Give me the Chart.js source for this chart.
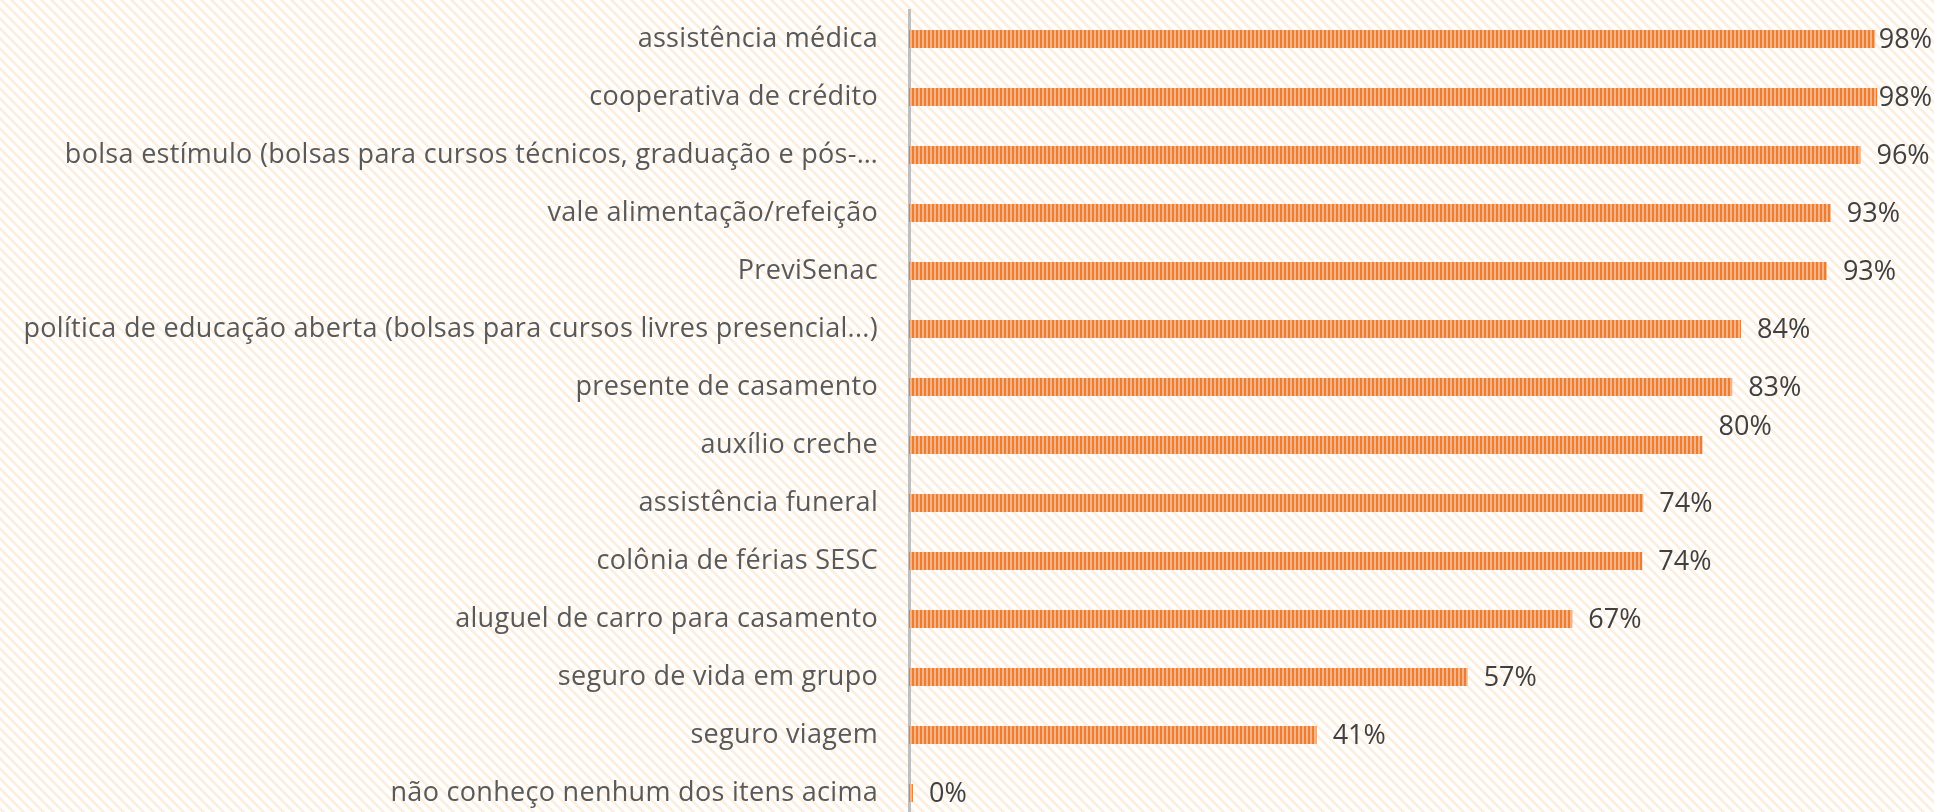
<!DOCTYPE html>
<html>
<head>
<meta charset="utf-8">
<script src="https://cdn.jsdelivr.net/npm/chart.js@4/dist/chart.umd.min.js"></script>
<style>
	html, body { margin: 0; padding: 0; overflow: hidden; background: #fff; }
	#wrap { width: 1934px; height: 822px; }
</style>
</head>
<body>
<div id="wrap"><canvas id="chart" width="1934" height="822"></canvas></div>
<script>
	const categories = [
		'assistência médica',
		'cooperativa de crédito',
		'bolsa estímulo (bolsas para cursos técnicos, graduação e pós-…',
		'vale alimentação/refeição',
		'PreviSenac',
		'política de educação aberta (bolsas para cursos livres presencial...)',
		'presente de casamento',
		'auxílio creche',
		'assistência funeral',
		'colônia de férias SESC',
		'aluguel de carro para casamento',
		'seguro de vida em grupo',
		'seguro viagem',
		'não conheço nenhum dos itens acima'
	];
	const shares = [0.979, 0.981, 0.964, 0.934, 0.930, 0.843, 0.834, 0.804, 0.744, 0.743, 0.672, 0.566, 0.413, 0.004];

	// little tiles for the Excel-like fills
	function makePattern(w, h, paint) {
		const c = document.createElement('canvas');
		c.width = w;
		c.height = h;
		paint(c.getContext('2d'));
		return c.getContext('2d').createPattern(c, 'repeat');
	}

	const bgPattern = makePattern(10, 10, (g) => {
		g.fillStyle = '#ffffff';
		g.fillRect(0, 0, 10, 10);
		g.fillStyle = '#fcefdf';
		for (let y = 0; y < 10; y++) {
			for (let k = 0; k < 4; k++) {
				g.fillRect((y + k) % 10, y, 1, 1);
			}
		}
	});

	const barPattern = makePattern(4, 4, (g) => {
		g.fillStyle = '#f5b488';
		g.fillRect(0, 0, 4, 4);
		g.fillStyle = '#ed7d31';
		g.fillRect(0, 0, 2, 4);
	});

	const backdrop = {
		id: 'backdrop',
		beforeDraw(chart) {
			const ctx = chart.ctx;
			ctx.save();
			ctx.fillStyle = bgPattern;
			ctx.fillRect(0, 0, chart.width, chart.height);
			ctx.restore();
			ctx.letterSpacing = '0.3px';
		}
	};

	const valueLabels = {
		id: 'valueLabels',
		afterDatasetsDraw(chart) {
			const ctx = chart.ctx;
			const meta = chart.getDatasetMeta(0);
			ctx.save();
			ctx.font = '27px "Open Sans"';
			ctx.letterSpacing = '0px';
			ctx.fillStyle = '#404040';
			ctx.textBaseline = 'middle';
			meta.data.forEach((bar, i) => {
				const text = Math.round(shares[i] * 100) + '%';
				const w = ctx.measureText(text).width;
				let x = bar.x + 16;
				if (x + w > chart.width - 2) x = chart.width - 2 - w;
				// the 80% label was dragged up a bit in the original
				const dy = i === 7 ? -19 : 0;
				ctx.fillText(text, x, bar.y + 1 + dy);
			});
			ctx.restore();
		}
	};

	new Chart(document.getElementById('chart'), {
		type: 'bar',
		data: {
			labels: categories,
			datasets: [{
				data: shares,
				backgroundColor: barPattern,
				borderWidth: 0,
				categoryPercentage: 1,
				barPercentage: 0.31
			}]
		},
		options: {
			indexAxis: 'y',
			responsive: false,
			animation: false,
			layout: { padding: { top: 10, right: 38, left: 0, bottom: 0 } },
			plugins: {
				legend: { display: false },
				tooltip: { enabled: false }
			},
			scales: {
				x: { display: false, min: 0, max: 1 },
				y: {
					grid: { display: false, drawTicks: false },
					border: { display: true, color: '#bfbfbf', width: 3 },
					ticks: {
						autoSkip: false,
						color: '#595959',
						padding: 31,
						font: { family: 'Open Sans', size: 27 }
					},
					afterFit(scale) {
						scale.width = 909;
						scale.paddingTop = 0;
						scale.paddingBottom = 0;
					}
				}
			}
		},
		plugins: [backdrop, valueLabels]
	});
</script>
</body>
</html>
